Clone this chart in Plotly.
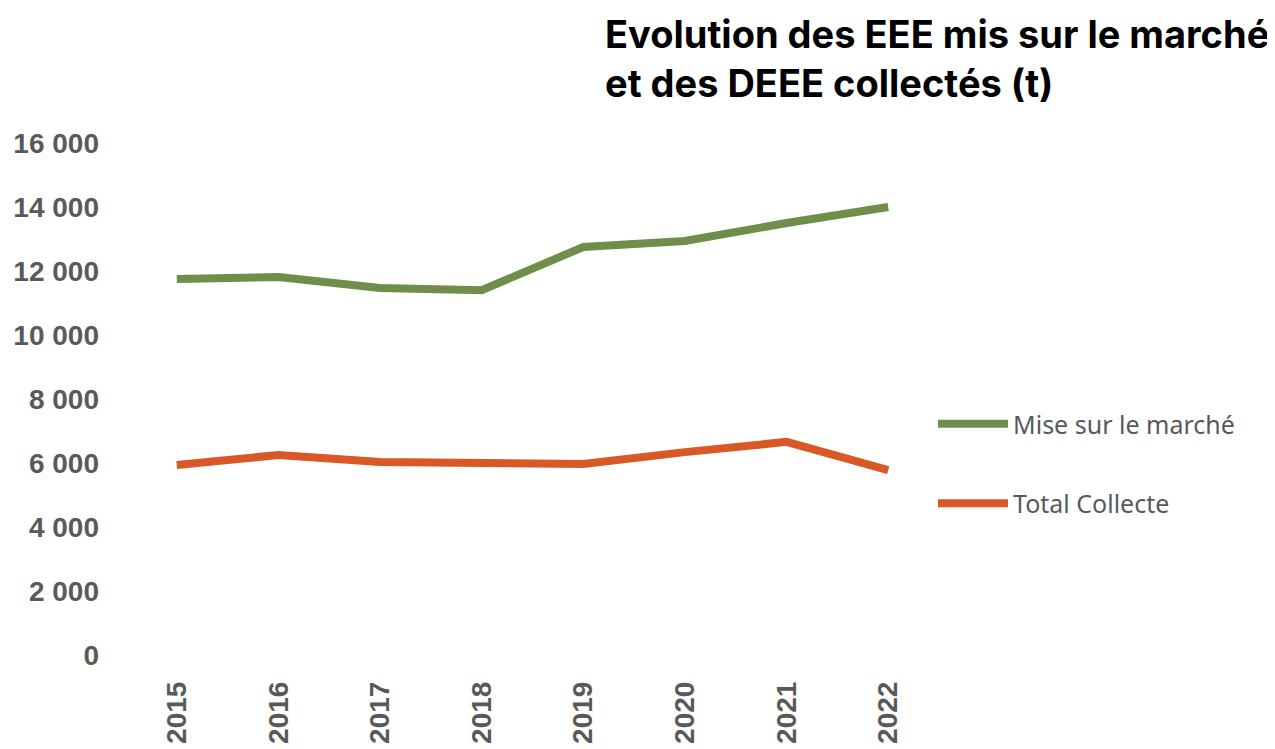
import plotly.graph_objects as go

years = ["2015", "2016", "2017", "2018", "2019", "2020", "2021", "2022"]
mise_sur_marche = [11750, 11810, 11470, 11400, 12750, 12940, 13500, 14000]
total_collecte = [5940, 6250, 6030, 6030, 5970, 6340, 6660, 5780]
y_ticks = [0, 2000, 4000, 6000, 8000, 10000, 12000, 14000, 16000]

GREEN = "#6E8E4A"
ORANGE = "#DA5726"
GREY = "#595959"

OFF = 8  # default page body margin
W, H = 1275 - OFF, 749 - OFF
L, T = 126 - OFF, 143 - OFF
R = W - (939 - OFF)
B = H - (655 - OFF)
pw, ph = W - L - R, H - T - B

def px_x(p):
    return (p - OFF - L) / pw

def px_y(p):
    return (H - B - (p - OFF)) / ph

fig = go.Figure()
fig.add_trace(go.Scatter(x=years, y=mise_sur_marche, mode="lines", name="Mise sur le marché",
                         line=dict(color=GREEN, width=8), legendgroup="a"))
fig.add_trace(go.Scatter(x=years, y=total_collecte, mode="lines", name="Total Collecte",
                         line=dict(color=ORANGE, width=8), legendgroup="b"))

fig.update_layout(
    width=W, height=H,
    margin=dict(l=L, r=R, t=T, b=B, autoexpand=False),
    paper_bgcolor="white", plot_bgcolor="white",
    separators=", ",
    showlegend=True,
    legend=dict(x=px_x(933), xanchor="left", y=px_y(401), yanchor="top",
                font=dict(family="Noto Sans, Open Sans, sans-serif", size=25, color=GREY),
                tracegroupgap=44, bgcolor="rgba(0,0,0,0)", itemwidth=70),
    xaxis=dict(type="category", range=[-0.5, 7.5], showgrid=False, showline=False, zeroline=False,
               ticks="", tickangle=-90, ticklabelstandoff=20,
               tickfont=dict(family="Liberation Sans, Arial, sans-serif", size=28, color=GREY, weight="bold")),
    yaxis=dict(range=[0, 16000], tickvals=y_ticks, tickformat=",d", showgrid=False, showline=False,
               zeroline=False, ticks="", ticklabelstandoff=26,
               tickfont=dict(family="Liberation Sans, Arial, sans-serif", size=28, color=GREY, weight="bold")),
    annotations=[dict(
        text="Evolution des EEE mis sur le marché<br>et des DEEE collectés (t)",
        xref="paper", yref="paper", x=px_x(603), y=px_y(9), xanchor="left", yanchor="top",
        align="left", showarrow=False,
        font=dict(family="Inter, Noto Sans, sans-serif", size=38, color="black", weight="bold"),
    )],
)

fig.write_html("out.html")
